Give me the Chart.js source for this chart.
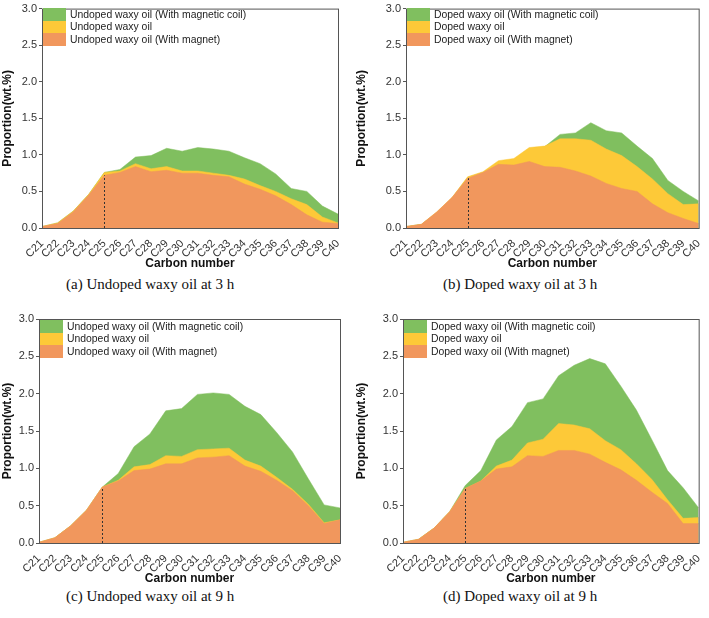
<!DOCTYPE html>
<html lang="en">
<head>
  <meta charset="UTF-8">
  <title>Carbon number distribution</title>
  <script src="https://cdn.jsdelivr.net/npm/chart.js"></script>
  <style>
    body { margin: 0; background: #fff; font-family: 'Liberation Sans', Arial, sans-serif; }
    #wrap { position: relative; width: 709px; height: 618px; overflow: hidden; }
    .panel { position: absolute; }
    .legend { position: absolute; font-size: 10.4px; color: #222; }
    .legend div { display: flex; align-items: center; height: 12.6px; }
    .legend span.sw { display: inline-block; width: 23px; height: 12.6px; margin-right: 4px; }
    .cap { position: absolute; font-family: 'Liberation Serif', 'Times New Roman', serif; font-size: 15px; color: #111; white-space: nowrap; }
  </style>
</head>
<body>
<div id="wrap"></div>

<script>
  const carbons = ['C21','C22','C23','C24','C25','C26','C27','C28','C29','C30',
                   'C31','C32','C33','C34','C35','C36','C37','C38','C39','C40'];
  const yTicks = [0, 0.5, 1.0, 1.5, 2.0, 2.5, 3.0];

  // (a) undoped, 3 h
  const undoped3hMagnet = [0.02,0.06,0.22,0.45,0.72,0.76,0.84,0.77,0.79,0.75,0.75,0.72,0.70,0.60,0.53,0.44,0.32,0.18,0.08,0.06];
  const undoped3hPlain  = [0.02,0.07,0.23,0.46,0.76,0.78,0.88,0.81,0.84,0.78,0.78,0.75,0.72,0.67,0.58,0.50,0.40,0.32,0.15,0.07];
  const undoped3hCoil   = [0.02,0.07,0.23,0.46,0.76,0.80,0.97,0.99,1.09,1.05,1.10,1.08,1.05,0.96,0.88,0.74,0.54,0.50,0.30,0.19];

  // (b) doped, 3 h
  const doped3hMagnet = [0.02,0.05,0.22,0.42,0.68,0.76,0.87,0.86,0.91,0.84,0.83,0.78,0.71,0.61,0.54,0.50,0.33,0.21,0.13,0.06];
  const doped3hPlain  = [0.02,0.05,0.22,0.42,0.70,0.77,0.92,0.95,1.10,1.12,1.22,1.22,1.20,1.08,0.99,0.84,0.67,0.47,0.32,0.33];
  const doped3hCoil   = [0.02,0.05,0.21,0.41,0.69,0.76,0.90,0.93,1.08,1.11,1.28,1.30,1.44,1.33,1.30,1.12,0.95,0.65,0.50,0.37];

  // (c) undoped, 9 h
  const undoped9hMagnet = [0.01,0.07,0.23,0.44,0.75,0.83,0.97,0.99,1.06,1.06,1.14,1.15,1.17,1.03,0.96,0.84,0.70,0.50,0.26,0.31];
  const undoped9hPlain  = [0.01,0.07,0.23,0.44,0.75,0.84,1.02,1.05,1.17,1.16,1.25,1.26,1.27,1.11,1.03,0.88,0.72,0.52,0.27,0.31];
  const undoped9hCoil   = [0.01,0.07,0.23,0.44,0.75,0.93,1.29,1.46,1.77,1.80,1.99,2.01,1.99,1.83,1.72,1.48,1.22,0.86,0.51,0.47];

  // (d) doped, 9 h
  const doped9hMagnet = [0.01,0.05,0.20,0.42,0.73,0.83,0.99,1.02,1.17,1.16,1.24,1.24,1.19,1.08,0.98,0.84,0.68,0.53,0.26,0.26];
  const doped9hPlain  = [0.01,0.05,0.20,0.42,0.73,0.83,1.03,1.11,1.34,1.39,1.60,1.58,1.53,1.37,1.25,1.06,0.85,0.58,0.33,0.34];
  const doped9hCoil   = [0.01,0.05,0.20,0.42,0.77,0.97,1.38,1.56,1.88,1.93,2.24,2.38,2.47,2.40,2.10,1.78,1.38,0.97,0.74,0.47];

  const GREEN = '#80bf5f', YELLOW = '#fdc938', ORANGE = '#f1975d';

  const panels = [
    { left: 0,   top: 0,   w: 354, h: 272, plot: [42, 7, 338, 228], prefix: 'Undoped',
      data: [undoped3hMagnet, undoped3hPlain, undoped3hCoil], cap: '(a)  Undoped waxy oil at 3 h', capX: 66, capY: 276 },
    { left: 354, top: 0,   w: 355, h: 272, plot: [52, 7, 349, 228], prefix: 'Doped',
      data: [doped3hMagnet, doped3hPlain, doped3hCoil], cap: '(b)  Doped waxy oil at 3 h', capX: 443, capY: 276 },
    { left: 0,   top: 310, w: 354, h: 277, plot: [39, 9, 340, 233], prefix: 'Undoped',
      data: [undoped9hMagnet, undoped9hPlain, undoped9hCoil], cap: '(c)  Undoped waxy oil at 9 h', capX: 66, capY: 588 },
    { left: 354, top: 310, w: 355, h: 277, plot: [49, 9, 350, 233], prefix: 'Doped',
      data: [doped9hMagnet, doped9hPlain, doped9hCoil], cap: '(d)  Doped waxy oil at 9 h', capX: 443, capY: 588 }
  ];

  // frame round the plot + dotted marker at C25
  const framePlugin = {
    id: 'frame',
    afterDatasetsDraw(chart) {
      const { ctx, chartArea: a, scales: { x, y } } = chart;
      const v = chart.data.datasets[0].data[4];
      ctx.save();
      ctx.strokeStyle = '#333';
      ctx.lineWidth = 1;
      ctx.setLineDash([2, 2]);
      const px = Math.round(x.getPixelForValue(4)) + 0.5;
      ctx.beginPath();
      ctx.moveTo(px, y.getPixelForValue(0));
      ctx.lineTo(px, y.getPixelForValue(v));
      ctx.stroke();
      ctx.setLineDash([]);
      ctx.strokeStyle = '#555';
      ctx.strokeRect(a.left + 0.5, a.top + 0.5, a.right - a.left, a.bottom - a.top);
      ctx.restore();
    }
  };

  const wrap = document.getElementById('wrap');

  panels.forEach(p => {
    const div = document.createElement('div');
    div.className = 'panel';
    Object.assign(div.style, { left: p.left + 'px', top: p.top + 'px', width: p.w + 'px', height: p.h + 'px' });
    const canvas = document.createElement('canvas');
    canvas.width = p.w; canvas.height = p.h;
    canvas.style.width = p.w + 'px'; canvas.style.height = p.h + 'px';
    div.appendChild(canvas);

    const [pl, pt, pr, pb] = p.plot;
    const names = [p.prefix + ' waxy oil (With magnetic coil)', p.prefix + ' waxy oil', p.prefix + ' waxy oil (With magnet)'];
    const legend = document.createElement('div');
    legend.className = 'legend';
    legend.style.left = (pl + 1) + 'px';
    legend.style.top = (pt + 1) + 'px';
    [[GREEN, names[0]], [YELLOW, names[1]], [ORANGE, names[2]]].forEach(([c, t]) => {
      const row = document.createElement('div');
      row.innerHTML = `<span class="sw" style="background:${c}"></span>${t}`;
      legend.appendChild(row);
    });
    div.appendChild(legend);
    wrap.appendChild(div);

    const cap = document.createElement('div');
    cap.className = 'cap';
    cap.style.left = p.capX + 'px';
    cap.style.top = p.capY + 'px';
    cap.textContent = p.cap;
    wrap.appendChild(cap);

    const ds = (label, data, color) => ({
      label, data, backgroundColor: color, borderColor: color, borderWidth: 0.5,
      fill: 'origin', pointRadius: 0, tension: 0
    });

    new Chart(canvas.getContext('2d'), {
      type: 'line',
      data: {
        labels: carbons,
        datasets: [
          ds(names[2], p.data[0], ORANGE),
          ds(names[1], p.data[1], YELLOW),
          ds(names[0], p.data[2], GREEN)
        ]
      },
      options: {
        responsive: false,
        animation: false,
        layout: { padding: { left: 0, top: pt, right: p.w - pr, bottom: 0 } },
        plugins: { legend: { display: false }, tooltip: { enabled: false } },
        scales: {
          x: {
            offset: false,
            grid: { display: false },
            border: { display: false },
            ticks: { color: '#333', font: { family: 'Liberation Sans', size: 11 }, maxRotation: 45, minRotation: 45, autoSkip: false, padding: 1 },
            title: { display: true, text: 'Carbon number', color: '#111', font: { family: 'Liberation Sans', size: 12, weight: 'bold' }, padding: { top: 1, bottom: 1 } },
            afterFit: s => { s.height = p.h - pb; }
          },
          y: {
            min: 0, max: 3,
            afterBuildTicks: s => { s.ticks = yTicks.map(v => ({ value: v })); },
            grid: { display: true, drawOnChartArea: false, tickLength: 3, color: '#555' },
            border: { display: false },
            ticks: { color: '#333', font: { family: 'Liberation Sans', size: 11 }, padding: 2, callback: v => v.toFixed(1) },
            title: { display: true, text: 'Proportion(wt.%)', color: '#111', font: { family: 'Liberation Sans', size: 12, weight: 'bold' }, padding: 0 },
            afterFit: s => { s.width = pl; }
          }
        }
      },
      plugins: [framePlugin]
    });
  });
</script>
</body>
</html>
